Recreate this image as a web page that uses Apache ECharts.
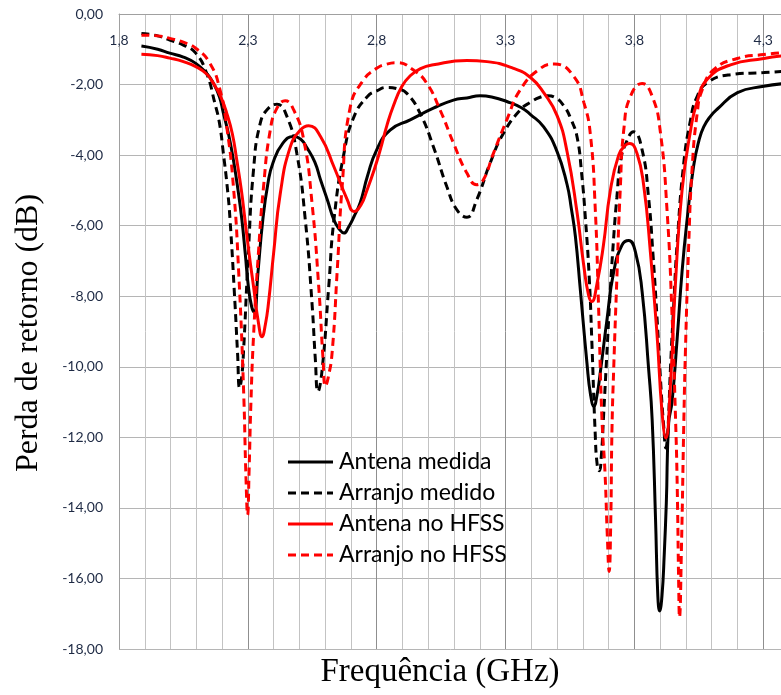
<!DOCTYPE html>
<html>
<head>
<meta charset="utf-8">
<script src="https://cdn.jsdelivr.net/npm/echarts@6/dist/echarts.min.js"></script>
<style>
  html, body { margin: 0; padding: 0; background: #ffffff; }
  #chart { width: 781px; height: 695px; }
</style>
</head>
<body>
<div id="chart"></div>
<script>
// Frequency (GHz) and return loss (dB) samples for each curve
const freqAntenaMedida = [1.887,1.95,1.997,2.05,2.098,2.14,2.166,2.19,2.205,2.225,2.244,2.262,2.277,2.29,2.302,2.315,2.325,2.339,2.358,2.378,2.397,2.436,2.478,2.505,2.53,2.56,2.582,2.61,2.634,2.655,2.673,2.69,2.712,2.736,2.764,2.8,2.852,2.93,3.02,3.098,3.15,3.201,3.25,3.305,3.36,3.397,3.448,3.5,3.539,3.555,3.571,3.59,3.616,3.63,3.643,3.655,3.667,3.693,3.72,3.752,3.778,3.804,3.83,3.855,3.869,3.882,3.891,3.898,3.907,3.916,3.924,3.933,3.946,3.966,3.985,4.005,4.03,4.05,4.069,4.095,4.121,4.2,4.302,4.37];
const lossAntenaMedida = [-0.91,-1.0,-1.11,-1.22,-1.40,-1.68,-1.96,-2.35,-2.81,-3.4,-4.14,-5.0,-5.84,-6.8,-7.72,-8.3,-8.45,-7.35,-5.84,-4.8,-4.23,-3.66,-3.47,-3.55,-3.8,-4.2,-4.7,-5.3,-5.84,-6.1,-6.21,-6.05,-5.74,-5.35,-4.6,-3.85,-3.29,-3.0,-2.67,-2.44,-2.38,-2.32,-2.36,-2.48,-2.65,-2.85,-3.2,-3.9,-4.84,-5.5,-6.3,-7.8,-9.9,-10.8,-11.12,-10.8,-10.2,-8.7,-7.3,-6.55,-6.42,-6.74,-7.87,-10.04,-11.5,-14.3,-16.5,-16.92,-16.5,-15.3,-13.84,-11.6,-11.0,-9.2,-7.3,-5.8,-4.3,-3.6,-3.2,-2.9,-2.7,-2.23,-2.05,-1.98];

const freqArranjoMedido = [1.887,1.95,1.997,2.05,2.098,2.14,2.172,2.19,2.205,2.22,2.231,2.25,2.26,2.268,2.276,2.283,2.302,2.322,2.348,2.38,2.413,2.452,2.49,2.523,2.549,2.562,2.572,2.588,2.614,2.634,2.673,2.712,2.764,2.8,2.839,2.88,2.917,2.968,3.02,3.072,3.111,3.15,3.188,3.24,3.292,3.357,3.397,3.434,3.465,3.49,3.526,3.555,3.578,3.595,3.61,3.625,3.635,3.648,3.656,3.664,3.672,3.68,3.692,3.706,3.72,3.732,3.746,3.765,3.797,3.83,3.855,3.872,3.888,3.905,3.914,3.922,3.93,3.94,3.953,3.966,3.992,4.018,4.04,4.082,4.173,4.302,4.37];
const lossArranjoMedido = [-0.55,-0.62,-0.74,-0.88,-1.11,-1.68,-2.53,-3.1,-3.95,-4.9,-5.84,-8.2,-9.6,-10.6,-10.3,-9.6,-6.78,-4.42,-3.1,-2.67,-2.56,-2.91,-3.95,-5.84,-8.2,-9.8,-10.7,-10.1,-7.72,-5.84,-3.95,-2.91,-2.34,-2.18,-2.08,-2.12,-2.25,-2.81,-3.76,-4.89,-5.55,-5.76,-5.27,-4.23,-3.38,-2.72,-2.5,-2.36,-2.32,-2.36,-2.6,-3.0,-3.5,-4.5,-5.8,-7.5,-9.3,-11.9,-12.8,-12.95,-12.5,-11.45,-9.8,-7.9,-6.3,-5.2,-4.2,-3.7,-3.34,-3.85,-5.2,-6.8,-8.63,-10.8,-11.7,-12.3,-11.8,-10.04,-8.2,-6.5,-4.2,-3.0,-2.4,-1.95,-1.72,-1.66,-1.63];

const freqAntenaHfss = [1.887,1.95,1.997,2.05,2.098,2.14,2.166,2.195,2.218,2.24,2.257,2.275,2.289,2.305,2.322,2.34,2.355,2.368,2.38,2.4,2.426,2.465,2.504,2.536,2.582,2.634,2.686,2.712,2.74,2.762,2.79,2.813,2.84,2.865,2.898,2.93,2.97,3.02,3.15,3.228,3.331,3.397,3.448,3.5,3.539,3.577,3.603,3.622,3.635,3.654,3.68,3.706,3.739,3.765,3.782,3.81,3.836,3.862,3.888,3.907,3.922,3.94,3.959,3.985,4.018,4.043,4.082,4.173,4.302,4.37];
const lossAntenaHfss = [-1.14,-1.18,-1.25,-1.35,-1.49,-1.7,-1.96,-2.35,-2.81,-3.4,-4.14,-5.0,-5.84,-6.8,-7.72,-8.7,-9.15,-8.8,-8.2,-6.78,-5.08,-3.76,-3.29,-3.17,-3.47,-4.33,-5.27,-5.6,-5.4,-5.0,-4.42,-3.87,-3.15,-2.6,-2.05,-1.75,-1.55,-1.44,-1.32,-1.35,-1.54,-1.8,-2.23,-2.88,-3.91,-5.6,-7.1,-7.96,-8.15,-7.68,-6.55,-5.04,-4.0,-3.72,-3.67,-3.95,-4.85,-6.74,-9.1,-11.26,-12.02,-10.5,-7.68,-5.0,-3.3,-2.5,-1.86,-1.44,-1.26,-1.19];

const freqArranjoHfss = [1.887,1.95,1.997,2.05,2.098,2.153,2.192,2.218,2.244,2.264,2.283,2.293,2.299,2.305,2.312,2.322,2.341,2.361,2.387,2.413,2.445,2.478,2.517,2.549,2.575,2.592,2.601,2.612,2.627,2.647,2.666,2.697,2.748,2.8,2.839,2.878,2.943,2.994,3.046,3.098,3.15,3.188,3.214,3.253,3.305,3.357,3.434,3.49,3.565,3.604,3.629,3.648,3.661,3.674,3.686,3.695,3.702,3.708,3.713,3.72,3.732,3.745,3.76,3.785,3.83,3.869,3.9,3.927,3.946,3.959,3.966,3.972,3.975,3.983,3.992,3.998,4.011,4.024,4.044,4.063,4.108,4.199,4.302,4.37];
const lossArranjoHfss = [-0.6,-0.62,-0.69,-0.8,-0.97,-1.4,-2.15,-3.19,-4.89,-7.25,-10.56,-13.2,-14.2,-12.9,-11.0,-9.14,-6.78,-4.89,-3.29,-2.67,-2.46,-2.72,-3.57,-5.36,-7.72,-9.8,-10.55,-10.3,-9.6,-7.25,-4.89,-2.65,-1.88,-1.54,-1.42,-1.38,-1.59,-1.96,-2.72,-3.66,-4.51,-4.84,-4.7,-3.95,-3.0,-2.15,-1.55,-1.42,-1.77,-2.51,-3.4,-5.5,-8.3,-11.45,-13.0,-14.8,-15.8,-14.5,-11.8,-10.0,-7.5,-5.0,-3.2,-2.33,-1.97,-2.33,-3.3,-5.6,-8.5,-11.3,-13.3,-16.2,-17.1,-15.0,-11.5,-9.57,-6.5,-4.38,-2.8,-2.15,-1.58,-1.26,-1.15,-1.1];

// Series names as shown in the legend
const seriesNames = ['Antena medida', 'Arranjo medido', 'Antena no HFSS', 'Arranjo no HFSS'];
const seriesColors = ['#000000', '#000000', '#ff0000', '#ff0000'];
const seriesDashed = [false, true, false, true];

// Axis tick labels along the frequency axis
const freqTickLabels = ['1,8', '2,3', '2,8', '3,3', '3,8', '4,3'];

function pairs(xs, ys) {
  return xs.map((x, i) => [x, ys[i]]);
}

const chart = echarts.init(document.getElementById('chart'), null, { renderer: 'canvas' });

const labelFont = 'Lato, "Open Sans", sans-serif';
const titleFont = '"Liberation Serif", "DejaVu Serif", serif';
const gridMinor = '#c3c3c3';
const gridMajor = '#8f8f8f';
const dashPattern = [8, 5];

function makeLine(i, data) {
  return {
    name: seriesNames[i],
    type: 'line',
    data: data,
    symbol: 'none',
    showSymbol: false,
    smooth: 0.5,
    clip: true,
    lineStyle: {
      color: seriesColors[i],
      width: 3,
      type: seriesDashed[i] ? dashPattern : 'solid',
      cap: 'butt'
    },
    itemStyle: { color: seriesColors[i] },
    emphasis: { disabled: true }
  };
}

// Legend block: sample line plus name for each series
const legendLeft = 288;
const legendTop = 462;
const legendStep = 31;
const legendGraphics = [];
seriesNames.forEach((name, i) => {
  const y = legendTop + i * legendStep;
  legendGraphics.push({
    type: 'line',
    shape: { x1: legendLeft, y1: y, x2: legendLeft + 45, y2: y },
    style: {
      stroke: seriesColors[i],
      lineWidth: 3,
      lineDash: seriesDashed[i] ? dashPattern : null
    },
    z: 10
  });
  legendGraphics.push({
    type: 'text',
    x: legendLeft + 51,
    y: y,
    style: {
      text: name,
      fontFamily: labelFont,
      fontSize: 23,
      fill: '#000000',
      textAlign: 'left',
      textVerticalAlign: 'middle'
    },
    z: 10
  });
});

chart.setOption({
  animation: false,
  backgroundColor: '#ffffff',
  grid: { left: 119, top: 14, width: 670, height: 635, containLabel: false, outerBoundsMode: 'none' },
  xAxis: {
    type: 'value',
    position: 'top',
    min: 1.8,
    max: 4.4,
    interval: 0.1,
    axisLine: { show: true, onZero: false, lineStyle: { color: '#a0a0a0', width: 1 } },
    axisTick: { show: false },
    axisLabel: {
      inside: true,
      margin: 19,
      showMinLabel: true,
      showMaxLabel: true,
      color: '#1e2a44',
      fontFamily: labelFont,
      fontSize: 14,
      formatter: function (value) {
        const k = Math.round((value - 1.8) * 10);
        if (k % 5 !== 0) return '';
        return freqTickLabels[k / 5] || '';
      }
    },
    splitLine: {
      show: true,
      lineStyle: { color: [gridMajor, gridMinor, gridMinor, gridMinor, gridMinor], width: 1 }
    }
  },
  yAxis: {
    type: 'value',
    min: -18,
    max: 0,
    interval: 2,
    axisLine: { show: true, lineStyle: { color: '#a0a0a0', width: 1 } },
    axisTick: { show: false },
    axisLabel: {
      margin: 16,
      color: '#1e2a44',
      fontFamily: labelFont,
      fontSize: 14,
      formatter: function (v) { return v.toFixed(2).replace('.', ','); }
    },
    splitLine: { show: true, lineStyle: { color: '#b5b5b5', width: 1 } }
  },
  graphic: [
    {
      type: 'text',
      x: 29,
      y: 333,
      rotation: Math.PI / 2,
      style: {
        text: 'Perda de retorno (dB)',
        fontFamily: titleFont,
        fontSize: 32,
        fill: '#000000',
        textAlign: 'center',
        textVerticalAlign: 'middle'
      }
    },
    {
      type: 'text',
      x: 440,
      y: 672,
      style: {
        text: 'Frequência (GHz)',
        fontFamily: titleFont,
        fontSize: 33,
        fill: '#000000',
        textAlign: 'center',
        textVerticalAlign: 'middle'
      }
    }
  ].concat(legendGraphics),
  series: [
    makeLine(0, pairs(freqAntenaMedida, lossAntenaMedida)),
    makeLine(1, pairs(freqArranjoMedido, lossArranjoMedido)),
    makeLine(2, pairs(freqAntenaHfss, lossAntenaHfss)),
    makeLine(3, pairs(freqArranjoHfss, lossArranjoHfss))
  ]
});
</script>
</body>
</html>
